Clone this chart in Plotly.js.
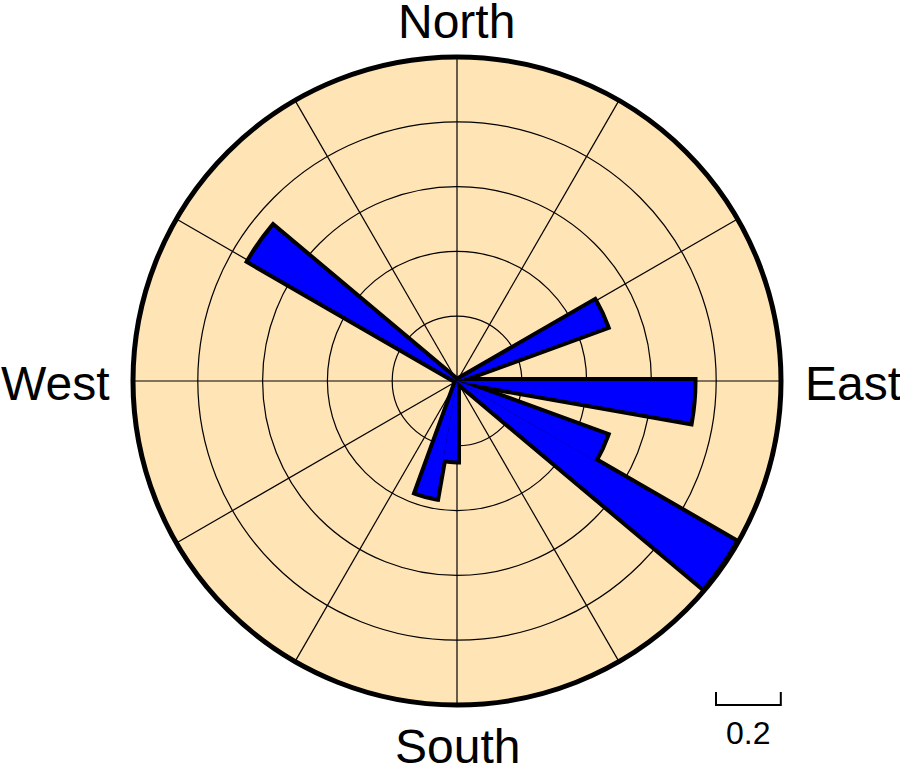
<!DOCTYPE html>
<html>
<head>
<meta charset="utf-8">
<script src="https://cdn.plot.ly/plotly-3.0.1.min.js"></script>
<style>html,body{margin:0;padding:0;background:#fff;}#chart{width:900px;height:765px;}</style>
</head>
<body>
<div id="chart"></div>
<script>
// Sector centres (azimuth, degrees clockwise from North) and lengths
var sectorAzimuth = [65, 95, 115, 125, 185, 195, 305];
var sectorLength  = [0.49, 0.73, 0.49, 0.99, 0.245, 0.365, 0.74];
var sectorWidth   = 10;
var ringValues    = [0.2, 0.4, 0.6, 0.8, 1.0];
var spokeValues   = [0, 30, 60, 90, 120, 150, 180, 210, 240, 270, 300, 330];
var directionLabels = ['North', 'East', 'South', 'West'];
var scaleLabel = '0.2';
var rMax = 1.0;

var W = 900, H = 765;
var cx = 457, cy = 381, R = 324;
var widths = sectorAzimuth.map(function(){return sectorWidth;});

// outline layer (drawn first, thick), then fill layer on top so adjacent sectors merge
var outline = {
  type: 'barpolar', theta: sectorAzimuth, r: sectorLength, width: widths,
  marker: {color: '#000000', line: {color: '#000000', width: 8}},
  hoverinfo: 'none'
};
var fill = {
  type: 'barpolar', theta: sectorAzimuth, r: sectorLength, width: widths,
  marker: {color: '#0000FF', line: {color: '#0000FF', width: 0}},
  hoverinfo: 'none'
};

var font = "'Liberation Sans', Arial, Helvetica, sans-serif";
var scaleLen = 0.2 / rMax * R;

var layout = {
  width: W, height: H,
  margin: {l: 0, r: 0, t: 0, b: 0},
  paper_bgcolor: '#ffffff',
  showlegend: false,
  font: {family: font, color: '#000'},
  polar: {
    domain: {x: [(cx - R) / W, (cx + R) / W], y: [(H - cy - R) / H, (H - cy + R) / H]},
    bgcolor: '#FFE4B5',
    bargap: 0,
    barmode: 'overlay',
    radialaxis: {
      range: [0, rMax], tickvals: ringValues, showticklabels: false, ticks: '',
      showline: false, gridcolor: '#000', gridwidth: 1.2
    },
    angularaxis: {
      direction: 'clockwise', rotation: 90,
      tickvals: spokeValues, showticklabels: false, ticks: '',
      gridcolor: '#000', gridwidth: 1.2,
      showline: true, linecolor: '#000', linewidth: 5
    }
  },
  annotations: [
    {text: directionLabels[0], xref: 'paper', yref: 'paper', x: 456 / W, y: 1 - 21 / H, xanchor: 'center', yanchor: 'middle', showarrow: false, font: {size: 48, family: font}},
    {text: directionLabels[1], xref: 'paper', yref: 'paper', x: 803 / W, y: 1 - 383 / H, xanchor: 'left', yanchor: 'middle', showarrow: false, font: {size: 48, family: font}},
    {text: directionLabels[2], xref: 'paper', yref: 'paper', x: 457 / W, y: 1 - 746 / H, xanchor: 'center', yanchor: 'middle', showarrow: false, font: {size: 48, family: font}},
    {text: directionLabels[3], xref: 'paper', yref: 'paper', x: 111 / W, y: 1 - 383 / H, xanchor: 'right', yanchor: 'middle', showarrow: false, font: {size: 48, family: font}},
    {text: scaleLabel, xref: 'paper', yref: 'paper', x: (716 + scaleLen / 2) / W, y: 1 - 733 / H, xanchor: 'center', yanchor: 'middle', showarrow: false, font: {size: 32, family: font}}
  ],
  shapes: [
    {type: 'path', xref: 'paper', yref: 'paper',
     path: 'M ' + (716 / W) + ',' + (1 - 692 / H) + ' L ' + (716 / W) + ',' + (1 - 705 / H) +
           ' L ' + ((716 + scaleLen) / W) + ',' + (1 - 705 / H) + ' L ' + ((716 + scaleLen) / W) + ',' + (1 - 692 / H),
     line: {color: '#000', width: 2}}
  ]
};

Plotly.newPlot('chart', [outline, fill], layout, {displayModeBar: false, staticPlot: true});
</script>
</body>
</html>
